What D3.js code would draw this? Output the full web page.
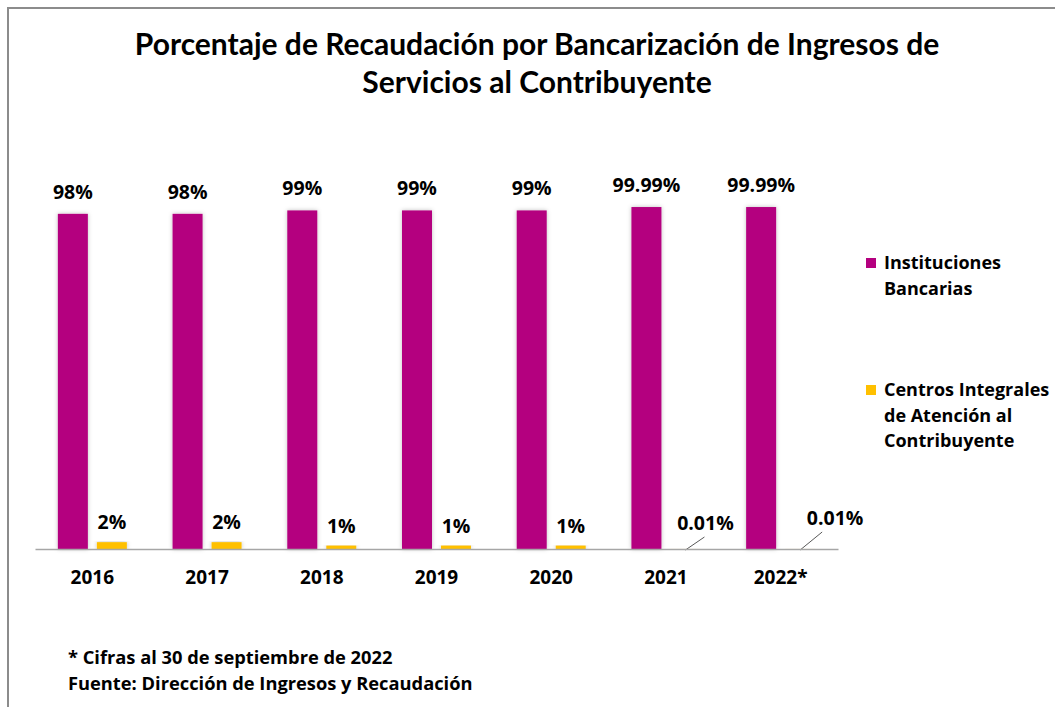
<!DOCTYPE html>
<html>
<head>
<meta charset="utf-8">
<script src="https://cdn.jsdelivr.net/npm/d3@7"></script>
<style>
	body { margin: 0; background: #fff; }
	svg text { font-family: "Open Sans", sans-serif; font-weight: bold; fill: #000; }
	svg text.title { font-family: Lato, sans-serif; }
</style>
</head>
<body>
<div id="chart"></div>
<script>
const years = ["2016", "2017", "2018", "2019", "2020", "2021", "2022*"];
const bancarias = [98, 98, 99, 99, 99, 99.99, 99.99];
const bancariasLabels = ["98%", "98%", "99%", "99%", "99%", "99.99%", "99.99%"];
const centros = [2, 2, 1, 1, 1, 0.01, 0.01];
const centrosLabels = ["2%", "2%", "1%", "1%", "1%", "0.01%", "0.01%"];
const seriesNames = ["Instituciones Bancarias", "Centros Integrales de Atención al Contribuyente"];
const legendLines = [["Instituciones", "Bancarias"], ["Centros Integrales", "de Atención al", "Contribuyente"]];
const colors = ["#b4007f", "#ffc000"];

const svg = d3.select("#chart")
	.append("svg")
	.attr("width", 1055)
	.attr("height", 707);

const defs = svg.append("defs");
const shadow = defs.append("filter")
	.attr("id", "shadow")
	.attr("x", "-30%").attr("y", "-5%")
	.attr("width", "160%").attr("height", "110%");
shadow.append("feDropShadow")
	.attr("dx", 0).attr("dy", 0)
	.attr("stdDeviation", 2)
	.attr("flood-color", "#000")
	.attr("flood-opacity", 0.25);

// chart border
svg.append("rect")
	.attr("x", 8).attr("y", 8)
	.attr("width", 1100).attr("height", 760)
	.attr("fill", "none")
	.attr("stroke", "#8c8c8c")
	.attr("stroke-width", 2);

// title
svg.append("text")
	.attr("class", "title")
	.attr("x", 537).attr("y", 55)
	.attr("text-anchor", "middle")
	.style("font-size", "30px")
	.text("Porcentaje de Recaudación por Bancarización de Ingresos de");
svg.append("text")
	.attr("class", "title")
	.attr("x", 537).attr("y", 93)
	.attr("text-anchor", "middle")
	.style("font-size", "30px")
	.text("Servicios al Contribuyente");

const x = d3.scaleBand()
	.domain(years)
	.range([35, 838]);

const y = d3.scaleLinear()
	.domain([0, 100])
	.range([549, 207]);

const barW = 30;
const gap = 9;
const off0 = x.bandwidth() / 2 - gap / 2 - barW;
const off1 = x.bandwidth() / 2 + gap / 2;

const g = svg.append("g");

g.selectAll(".bar0")
	.data(years)
	.enter()
	.append("rect")
	.attr("class", "bar0")
	.attr("x", (d) => x(d) + off0)
	.attr("y", (d, i) => y(bancarias[i]))
	.attr("width", barW)
	.attr("height", (d, i) => y(0) - y(bancarias[i]))
	.attr("fill", colors[0])
	.attr("filter", "url(#shadow)");

g.selectAll(".bar1")
	.data(years)
	.enter()
	.append("rect")
	.attr("class", "bar1")
	.attr("x", (d) => x(d) + off1)
	.attr("y", (d, i) => y(centros[i]))
	.attr("width", barW)
	.attr("height", (d, i) => y(0) - y(centros[i]))
	.attr("fill", colors[1])
	.attr("filter", "url(#shadow)");

// axis
svg.append("g")
	.attr("transform", "translate(0," + y(0) + ")")
	.call(d3.axisBottom(x).tickSize(0).tickPadding(22))
	.call((a) => a.select(".domain").attr("stroke", "#a6a6a6").attr("stroke-width", 1.5))
	.selectAll("text")
	.style("font-size", "19px")
	.style("font-family", "'Open Sans', sans-serif")
	.style("font-weight", "bold");

// data labels
g.selectAll(".lab0")
	.data(years)
	.enter()
	.append("text")
	.attr("x", (d) => x(d) + off0 + barW / 2)
	.attr("y", (d, i) => y(bancarias[i]) - 15)
	.attr("text-anchor", "middle")
	.style("font-size", "19.5px")
	.text((d, i) => bancariasLabels[i]);

g.selectAll(".lab1")
	.data(years)
	.enter()
	.append("text")
	.attr("x", (d, i) => x(d) + off1 + barW / 2 + (centros[i] < 0.5 ? (i === 6 ? 35 : 20) : 0))
	.attr("y", (d, i) => centros[i] < 0.5 ? (i === 6 ? 525 : 530) : y(centros[i]) - 13)
	.attr("text-anchor", "middle")
	.style("font-size", "19.5px")
	.text((d, i) => centrosLabels[i]);

// leader lines for tiny values
g.selectAll(".leader")
	.data(years.filter((d, i) => centros[i] < 0.5))
	.enter()
	.append("line")
	.attr("x1", (d) => x(d) + off1 + barW / 2)
	.attr("y1", y(0) + 1)
	.attr("x2", (d, i) => x(d) + off1 + barW / 2 + (i === 1 ? 22 : 19))
	.attr("y2", (d, i) => i === 1 ? 532 : 537)
	.attr("stroke", "#595959")
	.attr("stroke-width", 1);

// legend
const legendTop = [258, 385];
const legend = svg.append("g");
seriesNames.forEach((s, i) => {
	legend.append("rect")
		.attr("x", 866).attr("y", legendTop[i])
		.attr("width", 10).attr("height", 10)
		.attr("fill", colors[i]);
	legend.append("text")
		.attr("x", 884)
		.attr("y", legendTop[i] + 11)
		.style("font-size", "18px")
		.selectAll("tspan")
		.data(legendLines[i])
		.enter()
		.append("tspan")
		.attr("x", 884)
		.attr("dy", (d, j) => j === 0 ? 0 : 25.5)
		.text((d) => d);
});

// footnote
svg.append("text")
	.attr("x", 68).attr("y", 664)
	.style("font-size", "18.3px")
	.text("* Cifras al 30 de septiembre de 2022");
svg.append("text")
	.attr("x", 68).attr("y", 690)
	.style("font-size", "18.3px")
	.text("Fuente: Dirección de Ingresos y Recaudación");
</script>
</body>
</html>
